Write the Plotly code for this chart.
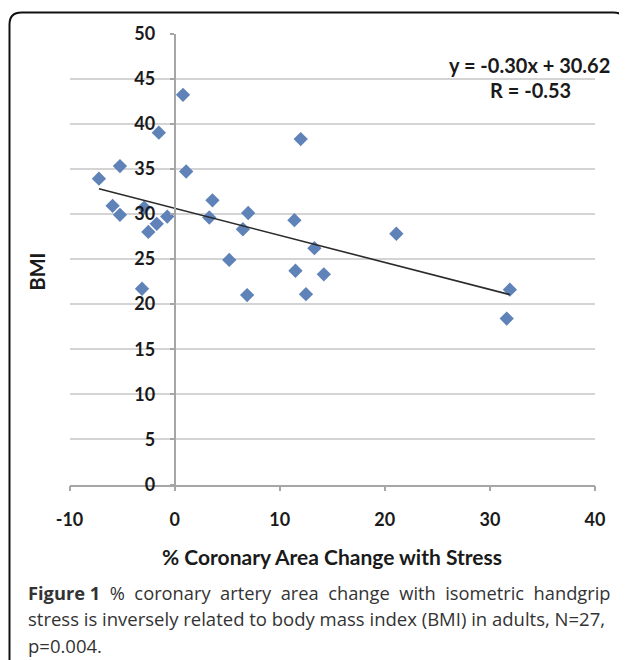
import plotly.graph_objects as go

# ---- data ----
x_change = [-7.2, -5.2, -5.9, -5.2, -1.5, -2.9, -2.5, -1.7, -0.7, 0.8, 1.1, 3.6, 3.3,
            7.0, 6.5, 12.0, 11.4, 13.3, 5.2, -3.1, 6.9, 11.5, 12.5, 14.2, 21.1, 31.9, 31.6]
bmi = [33.9, 35.3, 30.9, 29.9, 39.0, 30.7, 28.0, 28.9, 29.7, 43.2, 34.7, 31.5, 29.6,
       30.1, 28.3, 38.3, 29.3, 26.2, 24.9, 21.7, 21.0, 23.7, 21.1, 23.3, 27.8, 21.6, 18.4]
trend_slope = -0.30
trend_intercept = 30.62
r_value = -0.53

x_ticks = [-10, 0, 10, 20, 30, 40]
x_tick_labels = ["-10", "0", "10", "20", "30", "40"]
y_ticks = [0, 5, 10, 15, 20, 25, 30, 35, 40, 45, 50]
y_tick_labels = ["0", "5", "10", "15", "20", "25", "30", "35", "40", "45", "50"]

x_title = "% Coronary Area Change with Stress"
y_title = "BMI"
caption_lines = [
    "<b>Figure 1</b> % coronary artery area change with isometric handgrip",
    "stress is inversely related to body mass index (BMI) in adults, N=27,",
    "p=0.004.",
]
caption_extra_space = [True, False, False]   # first line is justified in the reference

# ---- layout helpers (page pixel -> paper); page body has an 8px margin ----
OFF = 8
W, H = 627 - OFF, 660 - OFF
def px(x):
    return (x - OFF) / W
def py(y):
    return 1 - (y - OFF) / H

plot_left, plot_right = 69.5, 595.0
plot_top, plot_bottom = 33.5, 484.5
x_range = [-10, 40]
y_range = [0, 50]
x0_pos = plot_left + (0 - x_range[0]) / (x_range[1] - x_range[0]) * (plot_right - plot_left)

chart_font = "Lato, 'Liberation Sans', Arial, sans-serif"
text_color = "#1a1a1a"

fig = go.Figure()

fig.add_trace(go.Scatter(
    x=x_change, y=bmi, mode="markers",
    marker=dict(symbol="diamond", size=11, color="#5f82b8", line=dict(width=0)),
    showlegend=False, hoverinfo="x+y",
))

tx = [min(x_change), max(x_change)]
ty = [trend_slope * v + trend_intercept for v in tx]
fig.add_trace(go.Scatter(
    x=tx, y=ty, mode="lines",
    line=dict(color="#2b2b2b", width=1.6),
    showlegend=False, hoverinfo="skip",
))

fig.update_layout(
    width=W, height=H,
    margin=dict(l=0, r=0, t=0, b=0),
    paper_bgcolor="white", plot_bgcolor="white",
    xaxis=dict(
        domain=[px(plot_left), px(plot_right)],
        range=x_range, tickvals=x_ticks, ticktext=x_tick_labels,
        showgrid=False, zeroline=False,
        showline=True, linecolor="#a6a6a6", linewidth=1.5,
        ticks="outside", ticklen=5, tickwidth=1.5, tickcolor="#a6a6a6",
        tickfont=dict(family=chart_font, size=18, color=text_color, weight="bold"),
        ticklabelstandoff=13,
        automargin=False, fixedrange=True,
    ),
    yaxis=dict(
        domain=[py(plot_bottom), py(plot_top)],
        range=y_range, tickvals=y_ticks, ticktext=y_tick_labels,
        anchor="free", position=px(x0_pos),
        showgrid=True, gridcolor="#d4d4d4", gridwidth=1.5,
        zeroline=False,
        showline=True, linecolor="#a6a6a6", linewidth=1.5,
        ticks="outside", ticklen=4, tickwidth=1.5, tickcolor="#a6a6a6",
        tickfont=dict(family=chart_font, size=18, color=text_color, weight="bold"),
        ticklabelstandoff=11,
        automargin=False, fixedrange=True,
    ),
)

annotations = [
    dict(text="y = -0.30x + 30.62", x=px(612), y=py(65), xref="paper", yref="paper",
         xanchor="right", yanchor="middle", showarrow=False,
         font=dict(family=chart_font, size=20, color=text_color, weight="bold")),
    dict(text="R = %.2f" % r_value, x=px(530), y=py(89.5), xref="paper", yref="paper",
         xanchor="center", yanchor="middle", showarrow=False,
         font=dict(family=chart_font, size=20, color=text_color, weight="bold")),
    dict(text=x_title, x=px((plot_left + plot_right) / 2), y=py(556), xref="paper", yref="paper",
         xanchor="center", yanchor="middle", showarrow=False,
         font=dict(family=chart_font, size=21, color=text_color, weight="bold")),
    dict(text=y_title, x=px(36.5), y=py(272), xref="paper", yref="paper",
         xanchor="center", yanchor="middle", showarrow=False, textangle=-90,
         font=dict(family=chart_font, size=20, color=text_color, weight="bold")),
]
cap_y = [592, 618.5, 645]
cap_size = [18.3, 18.5, 18.5]
for line, wide, yy, sz in zip(caption_lines, caption_extra_space, cap_y, cap_size):
    text = line.replace(" ", "\u00a0 ") if wide else line
    text = text.replace("<b>Figure\u00a0 1</b>", "<b>Figure 1</b>")
    annotations.append(dict(
        text=text, x=px(26), y=py(yy), xref="paper", yref="paper",
        xanchor="left", yanchor="middle", showarrow=False,
        font=dict(family="'Open Sans', 'Noto Sans', sans-serif", size=sz, color="#333333"),
    ))
fig.update_layout(annotations=annotations)

# rounded frame around the figure (bottom edge runs off the canvas)
L, T, R, B, rad = px(9.5), py(12.5), px(625.5), py(690), 12
rx, ry = rad / W, rad / H
path = (f"M {L},{B} L {L},{T - ry} Q {L},{T} {L + rx},{T} "
        f"L {R - rx},{T} Q {R},{T} {R},{T - ry} L {R},{B}")
fig.add_shape(type="path", path=path, xref="paper", yref="paper",
              line=dict(color="#111111", width=2), layer="above")

fig.write_html("out.html")
